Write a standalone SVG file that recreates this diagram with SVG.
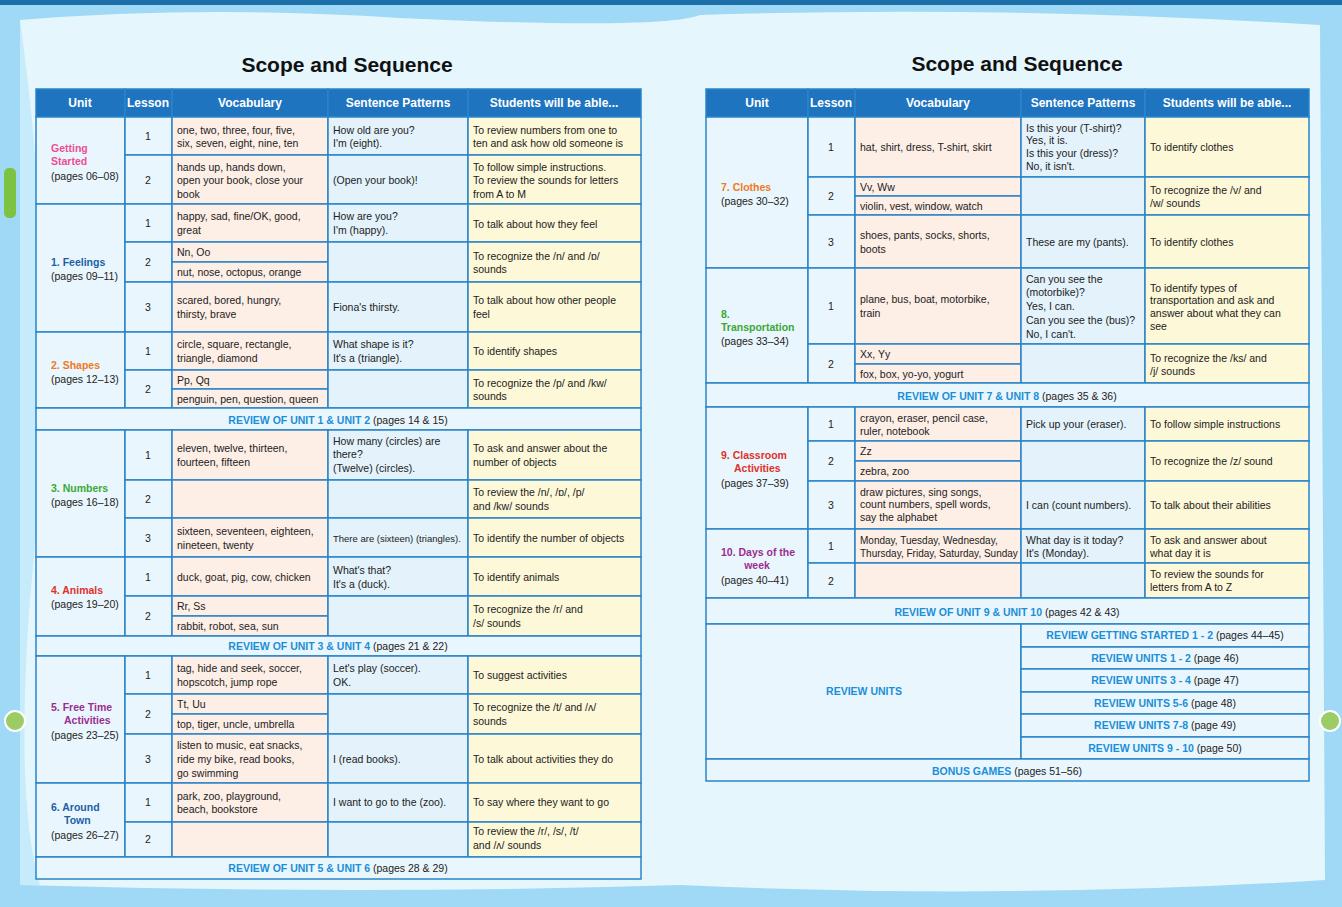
<svg xmlns="http://www.w3.org/2000/svg" width="1342" height="907" viewBox="0 0 1342 907">
<style>
rect.c{stroke:#2b84c8;stroke-width:1.5}
.h{fill:#1f74bf}.u{fill:#eaf6fd}.v{fill:#fdeee6}.s{fill:#e3f2fb}.t{fill:#fdf8d8}
text{font-family:"Liberation Sans",Arial,sans-serif;font-size:10.5px;fill:#222}
.hd{fill:#fff;font-size:12px;text-anchor:middle;font-weight:bold}
.m{text-anchor:middle}
.ttl{font-size:21px;font-weight:bold;fill:#111;text-anchor:middle}
.rv{fill:#1a8fd8;font-weight:bold}
.b{font-weight:bold}
</style>
<rect width="1342" height="907" fill="#9fd9f5"/>
<rect width="1342" height="5" fill="#1b6ea8"/>
<path d="M20 20 Q200 5 400 18 Q660 30 700 15 Q1000 5 1320 25 L1325 880 Q1000 900 680 885 Q360 895 20 885 Z" fill="#e6f6fd"/>
<path d="M20 20 Q60 300 30 600 Q15 800 40 885 L20 885Z" fill="#c6ebfa"/>
<text class="ttl" x="347" y="72">Scope and Sequence</text>
<text class="ttl" x="1017" y="71">Scope and Sequence</text>

<g id="left-table">
<g id="L-head">
<rect class="c h" x="36" y="89" width="89" height="28"/><rect class="c h" x="125" y="89" width="47" height="28"/><rect class="c h" x="172" y="89" width="156" height="28"/><rect class="c h" x="328" y="89" width="140" height="28"/><rect class="c h" x="468" y="89" width="173" height="28"/>
<text class="hd" x="80" y="107">Unit</text><text class="hd" x="148" y="107">Lesson</text><text class="hd" x="250" y="107">Vocabulary</text><text class="hd" x="398" y="107">Sentence Patterns</text><text class="hd" x="554" y="107">Students will be able...</text>
</g>
<g id="L-gs">
<rect class="c u" x="36" y="117" width="89" height="87"/>
<text x="51" y="152" class="b" style="fill:#ee4d92">Getting</text><text x="51" y="165" class="b" style="fill:#ee4d92">Started</text><text x="51" y="180">(pages 06–08)</text>
<rect class="c u" x="125" y="117" width="47" height="38"/><text class="m" x="148" y="140">1</text>
<rect class="c v" x="172" y="117" width="156" height="38"/><text x="177" y="134">one, two, three, four, five,</text><text x="177" y="147">six, seven, eight, nine, ten</text>
<rect class="c s" x="328" y="117" width="140" height="38"/><text x="333" y="134">How old are you?</text><text x="333" y="147">I'm (eight).</text>
<rect class="c t" x="468" y="117" width="173" height="38"/><text x="473" y="134">To review numbers from one to</text><text x="473" y="147">ten and ask how old someone is</text>
<rect class="c u" x="125" y="155" width="47" height="49"/><text class="m" x="148" y="184">2</text>
<rect class="c v" x="172" y="155" width="156" height="49"/><text x="177" y="171">hands up, hands down,</text><text x="177" y="184">open your book, close your</text><text x="177" y="198">book</text>
<rect class="c s" x="328" y="155" width="140" height="49"/><text x="333" y="184">(Open your book)!</text>
<rect class="c t" x="468" y="155" width="173" height="49"/><text x="473" y="171">To follow simple instructions.</text><text x="473" y="184">To review the sounds for letters</text><text x="473" y="198">from A to M</text>
</g>
<g id="L-feel">
<rect class="c u" x="36" y="204" width="89" height="128"/>
<text x="51" y="266" class="b" style="fill:#1c5fa8">1. Feelings</text><text x="51" y="280">(pages 09–11)</text>
<rect class="c u" x="125" y="204" width="47" height="38"/><text class="m" x="148" y="227">1</text>
<rect class="c v" x="172" y="204" width="156" height="38"/><text x="177" y="220">happy, sad, fine/OK, good,</text><text x="177" y="234">great</text>
<rect class="c s" x="328" y="204" width="140" height="38"/><text x="333" y="220">How are you?</text><text x="333" y="234">I'm (happy).</text>
<rect class="c t" x="468" y="204" width="173" height="38"/><text x="473" y="228">To talk about how they feel</text>
<rect class="c u" x="125" y="242" width="47" height="40"/><text class="m" x="148" y="266">2</text>
<rect class="c v" x="172" y="242" width="156" height="20"/><text x="177" y="256">Nn, Oo</text>
<rect class="c v" x="172" y="262" width="156" height="20"/><text x="177" y="276">nut, nose, octopus, orange</text>
<rect class="c s" x="328" y="242" width="140" height="40"/>
<rect class="c t" x="468" y="242" width="173" height="40"/><text x="473" y="260">To recognize the /n/ and /ɒ/</text><text x="473" y="273">sounds</text>
<rect class="c u" x="125" y="282" width="47" height="50"/><text class="m" x="148" y="311">3</text>
<rect class="c v" x="172" y="282" width="156" height="50"/><text x="177" y="304">scared, bored, hungry,</text><text x="177" y="318">thirsty, brave</text>
<rect class="c s" x="328" y="282" width="140" height="50"/><text x="333" y="311">Fiona's thirsty.</text>
<rect class="c t" x="468" y="282" width="173" height="50"/><text x="473" y="304">To talk about how other people</text><text x="473" y="318">feel</text>
</g>
<g id="L-shapes">
<rect class="c u" x="36" y="332" width="89" height="76"/>
<text x="51" y="369" class="b" style="fill:#f07a1e">2. Shapes</text><text x="51" y="383">(pages 12–13)</text>
<rect class="c u" x="125" y="332" width="47" height="38"/><text class="m" x="148" y="355">1</text>
<rect class="c v" x="172" y="332" width="156" height="38"/><text x="177" y="348">circle, square, rectangle,</text><text x="177" y="362">triangle, diamond</text>
<rect class="c s" x="328" y="332" width="140" height="38"/><text x="333" y="348">What shape is it?</text><text x="333" y="362">It's a (triangle).</text>
<rect class="c t" x="468" y="332" width="173" height="38"/><text x="473" y="355">To identify shapes</text>
<rect class="c u" x="125" y="370" width="47" height="38"/><text class="m" x="148" y="393">2</text>
<rect class="c v" x="172" y="370" width="156" height="19"/><text x="177" y="384">Pp, Qq</text>
<rect class="c v" x="172" y="389" width="156" height="19"/><text x="177" y="403">penguin, pen, question, queen</text>
<rect class="c s" x="328" y="370" width="140" height="38"/>
<rect class="c t" x="468" y="370" width="173" height="38"/><text x="473" y="387">To recognize the /p/ and /kw/</text><text x="473" y="400">sounds</text>
</g>
<g id="L-rev1"><rect class="c u" x="36" y="408" width="605" height="22"/><text class="m" x="338" y="424"><tspan class="rv">REVIEW OF UNIT 1 &amp; UNIT 2</tspan> (pages 14 &amp; 15)</text></g>
<g id="L-num">
<rect class="c u" x="36" y="430" width="89" height="127"/>
<text x="51" y="492" class="b" style="fill:#3aa935">3. Numbers</text><text x="51" y="506">(pages 16–18)</text>
<rect class="c u" x="125" y="430" width="47" height="50"/><text class="m" x="148" y="459">1</text>
<rect class="c v" x="172" y="430" width="156" height="50"/><text x="177" y="452">eleven, twelve, thirteen,</text><text x="177" y="466">fourteen, fifteen</text>
<rect class="c s" x="328" y="430" width="140" height="50"/><text x="333" y="445">How many (circles) are</text><text x="333" y="458">there?</text><text x="333" y="472">(Twelve) (circles).</text>
<rect class="c t" x="468" y="430" width="173" height="50"/><text x="473" y="452">To ask and answer about the</text><text x="473" y="466">number of objects</text>
<rect class="c u" x="125" y="480" width="47" height="38"/><text class="m" x="148" y="503">2</text>
<rect class="c v" x="172" y="480" width="156" height="38"/>
<rect class="c s" x="328" y="480" width="140" height="38"/>
<rect class="c t" x="468" y="480" width="173" height="38"/><text x="473" y="496">To review the /n/, /ɒ/, /p/</text><text x="473" y="510">and /kw/ sounds</text>
<rect class="c u" x="125" y="518" width="47" height="39"/><text class="m" x="148" y="542">3</text>
<rect class="c v" x="172" y="518" width="156" height="39"/><text x="177" y="535">sixteen, seventeen, eighteen,</text><text x="177" y="549">nineteen, twenty</text>
<rect class="c s" x="328" y="518" width="140" height="39"/><text x="333" y="542" style="font-size:9.5px">There are (sixteen) (triangles).</text>
<rect class="c t" x="468" y="518" width="173" height="39"/><text x="473" y="542">To identify the number of objects</text>
</g>
<g id="L-animals">
<rect class="c u" x="36" y="557" width="89" height="79"/>
<text x="51" y="594" class="b" style="fill:#e0312a">4. Animals</text><text x="51" y="608">(pages 19–20)</text>
<rect class="c u" x="125" y="557" width="47" height="39"/><text class="m" x="148" y="581">1</text>
<rect class="c v" x="172" y="557" width="156" height="39"/><text x="177" y="581">duck, goat, pig, cow, chicken</text>
<rect class="c s" x="328" y="557" width="140" height="39"/><text x="333" y="574">What's that?</text><text x="333" y="588">It's a (duck).</text>
<rect class="c t" x="468" y="557" width="173" height="39"/><text x="473" y="581">To identify animals</text>
<rect class="c u" x="125" y="596" width="47" height="40"/><text class="m" x="148" y="620">2</text>
<rect class="c v" x="172" y="596" width="156" height="20"/><text x="177" y="610">Rr, Ss</text>
<rect class="c v" x="172" y="616" width="156" height="20"/><text x="177" y="630">rabbit, robot, sea, sun</text>
<rect class="c s" x="328" y="596" width="140" height="40"/>
<rect class="c t" x="468" y="596" width="173" height="40"/><text x="473" y="613">To recognize the /r/ and</text><text x="473" y="627">/s/ sounds</text>
</g>
<g id="L-rev2"><rect class="c u" x="36" y="636" width="605" height="20"/><text class="m" x="338" y="650"><tspan class="rv">REVIEW OF UNIT 3 &amp; UNIT 4</tspan> (pages 21 &amp; 22)</text></g>
<g id="L-free">
<rect class="c u" x="36" y="656" width="89" height="127"/>
<text x="51" y="711" class="b" style="fill:#9b2d8f">5. Free Time</text><text x="64" y="724" class="b" style="fill:#9b2d8f">Activities</text><text x="51" y="739">(pages 23–25)</text>
<rect class="c u" x="125" y="656" width="47" height="38"/><text class="m" x="148" y="679">1</text>
<rect class="c v" x="172" y="656" width="156" height="38"/><text x="177" y="672">tag, hide and seek, soccer,</text><text x="177" y="686">hopscotch, jump rope</text>
<rect class="c s" x="328" y="656" width="140" height="38"/><text x="333" y="672">Let's play (soccer).</text><text x="333" y="686">OK.</text>
<rect class="c t" x="468" y="656" width="173" height="38"/><text x="473" y="679">To suggest activities</text>
<rect class="c u" x="125" y="694" width="47" height="40"/><text class="m" x="148" y="718">2</text>
<rect class="c v" x="172" y="694" width="156" height="20"/><text x="177" y="708">Tt, Uu</text>
<rect class="c v" x="172" y="714" width="156" height="20"/><text x="177" y="728">top, tiger, uncle, umbrella</text>
<rect class="c s" x="328" y="694" width="140" height="40"/>
<rect class="c t" x="468" y="694" width="173" height="40"/><text x="473" y="711">To recognize the /t/ and /ʌ/</text><text x="473" y="725">sounds</text>
<rect class="c u" x="125" y="734" width="47" height="49"/><text class="m" x="148" y="763">3</text>
<rect class="c v" x="172" y="734" width="156" height="49"/><text x="177" y="749">listen to music, eat snacks,</text><text x="177" y="763">ride my bike, read books,</text><text x="177" y="777">go swimming</text>
<rect class="c s" x="328" y="734" width="140" height="49"/><text x="333" y="763">I (read books).</text>
<rect class="c t" x="468" y="734" width="173" height="49"/><text x="473" y="763">To talk about activities they do</text>
</g>
<g id="L-town">
<rect class="c u" x="36" y="783" width="89" height="74"/>
<text x="51" y="811" class="b" style="fill:#1c5fa8">6. Around</text><text x="64" y="824" class="b" style="fill:#1c5fa8">Town</text><text x="51" y="839">(pages 26–27)</text>
<rect class="c u" x="125" y="783" width="47" height="39"/><text class="m" x="148" y="806">1</text>
<rect class="c v" x="172" y="783" width="156" height="39"/><text x="177" y="800">park, zoo, playground,</text><text x="177" y="813">beach, bookstore</text>
<rect class="c s" x="328" y="783" width="140" height="39"/><text x="333" y="806">I want to go to the (zoo).</text>
<rect class="c t" x="468" y="783" width="173" height="39"/><text x="473" y="806">To say where they want to go</text>
<rect class="c u" x="125" y="822" width="47" height="35"/><text class="m" x="148" y="843">2</text>
<rect class="c v" x="172" y="822" width="156" height="35"/>
<rect class="c s" x="328" y="822" width="140" height="35"/>
<rect class="c t" x="468" y="822" width="173" height="35"/><text x="473" y="835">To review the /r/, /s/, /t/</text><text x="473" y="849">and /ʌ/ sounds</text>
</g>
<g id="L-rev3"><rect class="c u" x="36" y="857" width="605" height="22"/><text class="m" x="338" y="872"><tspan class="rv">REVIEW OF UNIT 5 &amp; UNIT 6</tspan> (pages 28 &amp; 29)</text></g>
</g>

<g id="right-table">
<g id="R-head">
<rect class="c h" x="706" y="89" width="102" height="28"/><rect class="c h" x="808" y="89" width="47" height="28"/><rect class="c h" x="855" y="89" width="166" height="28"/><rect class="c h" x="1021" y="89" width="124" height="28"/><rect class="c h" x="1145" y="89" width="164" height="28"/>
<text class="hd" x="757" y="107">Unit</text><text class="hd" x="831" y="107">Lesson</text><text class="hd" x="938" y="107">Vocabulary</text><text class="hd" x="1083" y="107">Sentence Patterns</text><text class="hd" x="1227" y="107">Students will be able...</text>
</g>
<g id="R-clothes">
<rect class="c u" x="706" y="117" width="102" height="151"/>
<text x="721" y="191" class="b" style="fill:#f07a1e">7. Clothes</text><text x="721" y="205">(pages 30–32)</text>
<rect class="c u" x="808" y="117" width="47" height="60"/><text class="m" x="831" y="151">1</text>
<rect class="c v" x="855" y="117" width="166" height="60"/><text x="860" y="151">hat, shirt, dress, T-shirt, skirt</text>
<rect class="c s" x="1021" y="117" width="124" height="60"/><text x="1026" y="132">Is this your (T-shirt)?</text><text x="1026" y="144">Yes, it is.</text><text x="1026" y="157">Is this your (dress)?</text><text x="1026" y="170">No, it isn't.</text>
<rect class="c t" x="1145" y="117" width="164" height="60"/><text x="1150" y="151">To identify clothes</text>
<rect class="c u" x="808" y="177" width="47" height="38"/><text class="m" x="831" y="200">2</text>
<rect class="c v" x="855" y="177" width="166" height="19"/><text x="860" y="191">Vv, Ww</text>
<rect class="c v" x="855" y="196" width="166" height="19"/><text x="860" y="210">violin, vest, window, watch</text>
<rect class="c s" x="1021" y="177" width="124" height="38"/>
<rect class="c t" x="1145" y="177" width="164" height="38"/><text x="1150" y="194">To recognize the /v/ and</text><text x="1150" y="207">/w/ sounds</text>
<rect class="c u" x="808" y="215" width="47" height="53"/><text class="m" x="831" y="246">3</text>
<rect class="c v" x="855" y="215" width="166" height="53"/><text x="860" y="239">shoes, pants, socks, shorts,</text><text x="860" y="253">boots</text>
<rect class="c s" x="1021" y="215" width="124" height="53"/><text x="1026" y="246">These are my (pants).</text>
<rect class="c t" x="1145" y="215" width="164" height="53"/><text x="1150" y="246">To identify clothes</text>
</g>
<g id="R-trans">
<rect class="c u" x="706" y="268" width="102" height="115"/>
<text x="721" y="318" class="b" style="fill:#3aa935">8.</text><text x="721" y="331" class="b" style="fill:#3aa935">Transportation</text><text x="721" y="345">(pages 33–34)</text>
<rect class="c u" x="808" y="268" width="47" height="76"/><text class="m" x="831" y="310">1</text>
<rect class="c v" x="855" y="268" width="166" height="76"/><text x="860" y="303">plane, bus, boat, motorbike,</text><text x="860" y="317">train</text>
<rect class="c s" x="1021" y="268" width="124" height="76"/><text x="1026" y="283">Can you see the</text><text x="1026" y="296">(motorbike)?</text><text x="1026" y="310">Yes, I can.</text><text x="1026" y="324">Can you see the (bus)?</text><text x="1026" y="338">No, I can't.</text>
<rect class="c t" x="1145" y="268" width="164" height="76"/><text x="1150" y="292">To identify types of</text><text x="1150" y="304">transportation and ask and</text><text x="1150" y="317">answer about what they can</text><text x="1150" y="330">see</text>
<rect class="c u" x="808" y="344" width="47" height="39"/><text class="m" x="831" y="368">2</text>
<rect class="c v" x="855" y="344" width="166" height="20"/><text x="860" y="358">Xx, Yy</text>
<rect class="c v" x="855" y="364" width="166" height="19"/><text x="860" y="378">fox, box, yo-yo, yogurt</text>
<rect class="c s" x="1021" y="344" width="124" height="39"/>
<rect class="c t" x="1145" y="344" width="164" height="39"/><text x="1150" y="362">To recognize the /ks/ and</text><text x="1150" y="375">/j/ sounds</text>
</g>
<g id="R-rev1"><rect class="c u" x="706" y="383" width="603" height="24"/><text class="m" x="1007" y="400"><tspan class="rv">REVIEW OF UNIT 7 &amp; UNIT 8</tspan> (pages 35 &amp; 36)</text></g>
<g id="R-class">
<rect class="c u" x="706" y="407" width="102" height="122"/>
<text x="721" y="459" class="b" style="fill:#e0312a">9. Classroom</text><text x="734" y="472" class="b" style="fill:#e0312a">Activities</text><text x="721" y="487">(pages 37–39)</text>
<rect class="c u" x="808" y="407" width="47" height="34"/><text class="m" x="831" y="428">1</text>
<rect class="c v" x="855" y="407" width="166" height="34"/><text x="860" y="422">crayon, eraser, pencil case,</text><text x="860" y="435">ruler, notebook</text>
<rect class="c s" x="1021" y="407" width="124" height="34"/><text x="1026" y="428">Pick up your (eraser).</text>
<rect class="c t" x="1145" y="407" width="164" height="34"/><text x="1150" y="428">To follow simple instructions</text>
<rect class="c u" x="808" y="441" width="47" height="40"/><text class="m" x="831" y="465">2</text>
<rect class="c v" x="855" y="441" width="166" height="20"/><text x="860" y="455">Zz</text>
<rect class="c v" x="855" y="461" width="166" height="20"/><text x="860" y="475">zebra, zoo</text>
<rect class="c s" x="1021" y="441" width="124" height="40"/>
<rect class="c t" x="1145" y="441" width="164" height="40"/><text x="1150" y="465">To recognize the /z/ sound</text>
<rect class="c u" x="808" y="481" width="47" height="48"/><text class="m" x="831" y="509">3</text>
<rect class="c v" x="855" y="481" width="166" height="48"/><text x="860" y="496">draw pictures, sing songs,</text><text x="860" y="508">count numbers, spell words,</text><text x="860" y="521">say the alphabet</text>
<rect class="c s" x="1021" y="481" width="124" height="48"/><text x="1026" y="509">I can (count numbers).</text>
<rect class="c t" x="1145" y="481" width="164" height="48"/><text x="1150" y="509">To talk about their abilities</text>
</g>
<g id="R-days">
<rect class="c u" x="706" y="529" width="102" height="69"/>
<text x="721" y="556" class="b" style="fill:#9b2d8f">10. Days of the</text><text x="757" y="569" class="b m" style="fill:#9b2d8f">week</text><text x="721" y="584">(pages 40–41)</text>
<rect class="c u" x="808" y="529" width="47" height="34"/><text class="m" x="831" y="550">1</text>
<rect class="c v" x="855" y="529" width="166" height="34"/><text x="860" y="544" style="font-size:10px">Monday, Tuesday, Wednesday,</text><text x="860" y="557" style="font-size:10px">Thursday, Friday, Saturday, Sunday</text>
<rect class="c s" x="1021" y="529" width="124" height="34"/><text x="1026" y="544">What day is it today?</text><text x="1026" y="557">It's (Monday).</text>
<rect class="c t" x="1145" y="529" width="164" height="34"/><text x="1150" y="544">To ask and answer about</text><text x="1150" y="557">what day it is</text>
<rect class="c u" x="808" y="563" width="47" height="35"/><text class="m" x="831" y="585">2</text>
<rect class="c v" x="855" y="563" width="166" height="35"/>
<rect class="c s" x="1021" y="563" width="124" height="35"/>
<rect class="c t" x="1145" y="563" width="164" height="35"/><text x="1150" y="578">To review the sounds for</text><text x="1150" y="591">letters from A to Z</text>
</g>
<g id="R-rev2"><rect class="c u" x="706" y="598" width="603" height="26"/><text class="m" x="1007" y="616"><tspan class="rv">REVIEW OF UNIT 9 &amp; UNIT 10</tspan> (pages 42 &amp; 43)</text></g>
<g id="R-reviews">
<rect class="c u" x="706" y="624" width="315" height="135"/><text class="m rv" x="864" y="695">REVIEW UNITS</text>
<rect class="c u" x="1021" y="624" width="288" height="23"/><text class="m" x="1165" y="639"><tspan class="rv">REVIEW GETTING STARTED 1 - 2</tspan> (pages 44–45)</text>
<rect class="c u" x="1021" y="647" width="288" height="22"/><text class="m" x="1165" y="662"><tspan class="rv">REVIEW UNITS 1 - 2</tspan> (page 46)</text>
<rect class="c u" x="1021" y="669" width="288" height="23"/><text class="m" x="1165" y="684"><tspan class="rv">REVIEW UNITS 3 - 4</tspan> (page 47)</text>
<rect class="c u" x="1021" y="692" width="288" height="22"/><text class="m" x="1165" y="707"><tspan class="rv">REVIEW UNITS 5-6</tspan> (page 48)</text>
<rect class="c u" x="1021" y="714" width="288" height="23"/><text class="m" x="1165" y="729"><tspan class="rv">REVIEW UNITS 7-8</tspan> (page 49)</text>
<rect class="c u" x="1021" y="737" width="288" height="22"/><text class="m" x="1165" y="752"><tspan class="rv">REVIEW UNITS 9 - 10</tspan> (page 50)</text>
<rect class="c u" x="706" y="759" width="603" height="22"/><text class="m" x="1007" y="775"><tspan class="rv">BONUS GAMES</tspan> (pages 51–56)</text>
</g>
</g>
<g id="nav">
<rect x="4" y="168" width="12" height="50" rx="5" fill="#7cc243"/>
<circle cx="15" cy="721" r="10" fill="#9ccc65" stroke="#fff" stroke-width="2"/>
<circle cx="1330" cy="721" r="10" fill="#9ccc65" stroke="#fff" stroke-width="2"/>
</g>
</svg>
